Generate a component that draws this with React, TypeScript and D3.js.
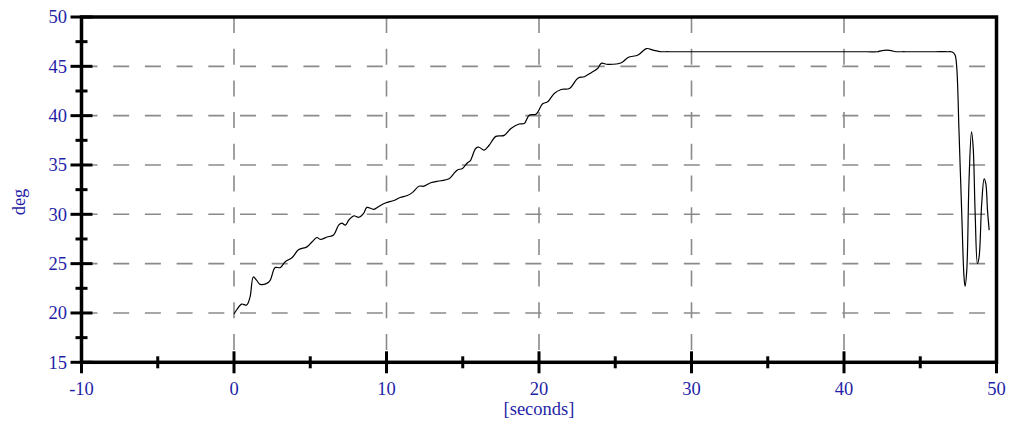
import React from "react";
import * as d3 from "d3";

const times: number[] = [
  0, 0.17, 0.5, 0.83, 1.05, 1.27, 1.49, 1.71, 2.15, 2.37, 2.7, 3.03, 3.36, 3.8, 4.23, 4.78,
  5.11, 5.44, 5.66, 6.1, 6.53, 6.86, 7.08, 7.3, 7.52, 7.85, 8.18, 8.5, 8.72, 9.16, 9.49, 9.93,
  10.48, 10.9, 11.36, 11.69, 12.13, 12.45, 12.9, 13.55, 14.1, 14.4, 14.65, 14.98, 15.3, 15.5,
  15.86, 16.07, 16.4, 16.73, 17.17, 17.72, 18.16, 18.7, 19.03, 19.36, 19.8, 20.24, 20.57, 21.0,
  21.45, 22.0, 22.55, 22.98, 23.42, 23.86, 24.08, 24.52, 25.4, 25.84, 26.5, 27.04, 27.48, 27.92,
  28.5, 30, 32, 34, 36, 38, 40, 41.5, 42.2, 42.5, 43.1, 43.3, 44, 45, 46, 46.8, 47.1, 47.28, 47.39,
  47.54, 47.72, 47.87, 47.94, 48.05, 48.2, 48.36, 48.47, 48.6, 48.75, 48.86, 49.03, 49.19, 49.3,
  49.41, 49.52,
];
const degValues: number[] = [
  19.9, 20.3, 20.9, 20.8, 21.6, 23.65, 23.3, 22.9, 23.0, 23.3, 24.6, 24.6, 25.2, 25.6, 26.4, 26.7,
  27.2, 27.65, 27.45, 27.7, 27.9, 28.9, 29.1, 28.9, 29.4, 29.85, 29.7, 30.1, 30.7, 30.5, 30.8, 31.15,
  31.4, 31.7, 31.9, 32.2, 32.85, 32.85, 33.2, 33.4, 33.6, 34.1, 34.5, 34.65, 35.2, 35.45,
  36.7, 36.8, 36.5, 37.0, 37.9, 38.0, 38.7, 39.15, 39.2, 40.05, 40.15, 41.2, 41.4, 42.25,
  42.65, 42.75, 43.8, 43.95, 44.35, 44.8, 45.3, 45.2, 45.36, 45.9, 46.15, 46.8, 46.65, 46.5,
  46.48, 46.48, 46.48, 46.48, 46.48, 46.48, 46.48, 46.48, 46.48, 46.6, 46.6, 46.5, 46.48, 46.48,
  46.48, 46.48, 46.45, 46.15, 44.96,
  38.5, 30.1, 23.65, 22.7, 24.3, 33.5, 38.35, 36.8, 30.1, 25.0, 25.7, 31.1, 33.6, 33.1,
  30.4, 28.4,
];

const xMajorTicks: number[] = [-10, 0, 10, 20, 30, 40, 50];
const xMinorTicks: number[] = [-5, 5, 15, 25, 35, 45];
const yMajorTicks: number[] = [15, 20, 25, 30, 35, 40, 45, 50];
const yMinorTicks: number[] = [17.5, 22.5, 27.5, 32.5, 37.5, 42.5, 47.5];
const xGridValues: number[] = [0, 10, 20, 30, 40];
const yGridValues: number[] = [20, 25, 30, 35, 40, 45];
const xLabel = "[seconds]";
const yLabel = "deg";

const W = 1012;
const H = 424;
const L = 81.5;
const R = 996.5;
const T = 17;
const B = 362.3;
const BLUE = "#1f1fa8";
const FONT = "'Liberation Serif', 'Times New Roman', serif";

export default function App() {
  const x = d3.scaleLinear().domain([-10, 50]).range([L, R]);
  const y = d3.scaleLinear().domain([15, 50]).range([B, T]);
  const pts: [number, number][] = times.map((t, i) => [t, degValues[i]]);
  const line = d3
    .line<[number, number]>()
    .x((d) => x(d[0]))
    .y((d) => y(d[1]))
    .curve(d3.curveCatmullRom.alpha(0.5));

  return (
    <div style={{ position: "fixed", left: 0, top: 0, width: W, height: H, background: "#fff" }}>
      <svg width={W} height={H} style={{ display: "block" }}>
        <rect x={0} y={0} width={W} height={H} fill="#fff" />
        {yGridValues.map((v) => (
          <line key={"hg" + v} x1={L} x2={R} y1={y(v)} y2={y(v)} stroke="#8a8a8a" strokeWidth={1.6} strokeDasharray="16,15.7" />
        ))}
        {xGridValues.map((v) => (
          <line key={"vg" + v} x1={x(v)} x2={x(v)} y1={T} y2={B} stroke="#8a8a8a" strokeWidth={1.6} strokeDasharray="16,15.7" />
        ))}
        <path d={line(pts) || ""} fill="none" stroke="#000" strokeWidth={1.2} />
        <rect x={L} y={T} width={R - L} height={B - T} fill="none" stroke="#000" strokeWidth={3.5} />
        {yMajorTicks.map((v) => (
          <line key={"ymj" + v} x1={L - 11} x2={L + 11} y1={y(v)} y2={y(v)} stroke="#000" strokeWidth={3} />
        ))}
        {yMinorTicks.map((v) => (
          <line key={"ymn" + v} x1={L - 6} x2={L + 6} y1={y(v)} y2={y(v)} stroke="#000" strokeWidth={3} />
        ))}
        {xMajorTicks.map((v) => (
          <line key={"xmj" + v} x1={x(v)} x2={x(v)} y1={B - 11} y2={B + 11} stroke="#000" strokeWidth={3} />
        ))}
        {xMinorTicks.map((v) => (
          <line key={"xmn" + v} x1={x(v)} x2={x(v)} y1={B - 6} y2={B + 6} stroke="#000" strokeWidth={3} />
        ))}
        {yMajorTicks.map((v) => (
          <text key={"yl" + v} x={67} y={y(v)} dy="0.35em" textAnchor="end" fill={BLUE} fontFamily={FONT} fontSize={18.5}>
            {v}
          </text>
        ))}
        {xMajorTicks.map((v) => (
          <text key={"xl" + v} x={x(v)} y={395} textAnchor="middle" fill={BLUE} fontFamily={FONT} fontSize={18.5}>
            {v}
          </text>
        ))}
        <text x={(L + R) / 2} y={415} textAnchor="middle" fill={BLUE} fontFamily={FONT} fontSize={18.5}>
          {xLabel}
        </text>
        <text transform="translate(25,202) rotate(-90)" textAnchor="middle" fill={BLUE} fontFamily={FONT} fontSize={18.5}>
          {yLabel}
        </text>
      </svg>
    </div>
  );
}
